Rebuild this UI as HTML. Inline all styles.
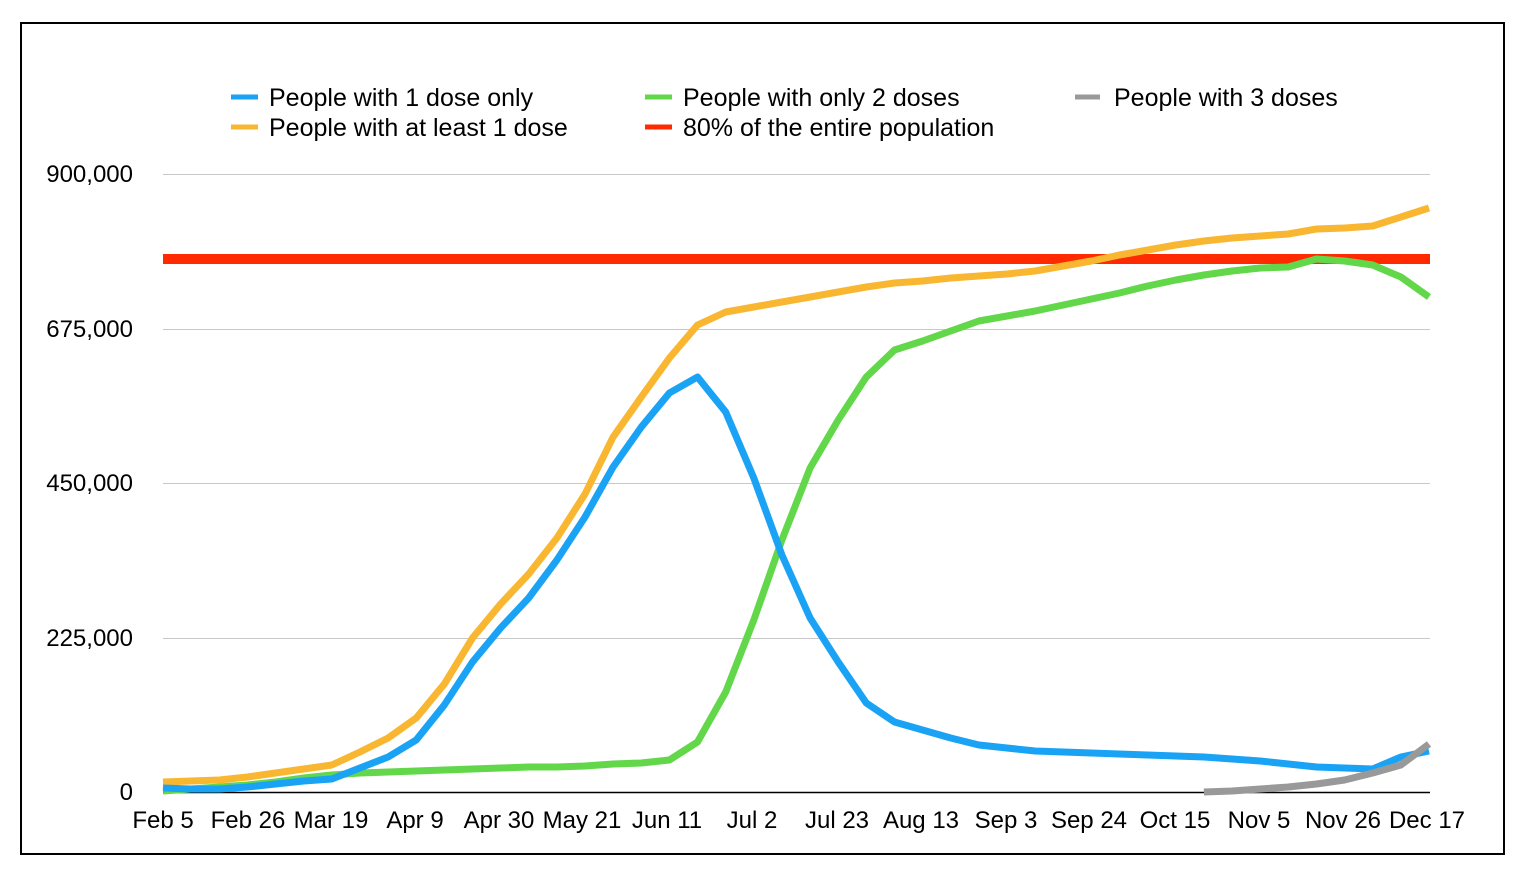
<!DOCTYPE html>
<html><head><style>body{margin:0;background:#fff}svg{display:block}text{font-family:"Liberation Sans",Arial,sans-serif;font-size:24px;fill:#000}.lg{font-size:25px}</style></head><body>
<svg width="1518" height="872" xmlns="http://www.w3.org/2000/svg">
<rect x="21" y="23" width="1483" height="831" fill="#fff" stroke="#000" stroke-width="2"/>
<g stroke="#c8c8c8" stroke-width="1">
<line x1="163" x2="1430" y1="174.5" y2="174.5"/><line x1="163" x2="1430" y1="329.5" y2="329.5"/><line x1="163" x2="1430" y1="483.5" y2="483.5"/><line x1="163" x2="1430" y1="638.5" y2="638.5"/></g>
<line x1="163" x2="1430" y1="792.5" y2="792.5" stroke="#000" stroke-width="1.5"/>
<g text-anchor="end"><text x="133" y="182">900,000</text><text x="133" y="337">675,000</text><text x="133" y="491">450,000</text><text x="133" y="646">225,000</text><text x="133" y="800">0</text></g>
<g text-anchor="middle"><text x="163" y="828">Feb 5</text><text x="248" y="828">Feb 26</text><text x="331" y="828">Mar 19</text><text x="415" y="828">Apr 9</text><text x="499" y="828">Apr 30</text><text x="582" y="828">May 21</text><text x="667" y="828">Jun 11</text><text x="752" y="828">Jul 2</text><text x="837" y="828">Jul 23</text><text x="921" y="828">Aug 13</text><text x="1006" y="828">Sep 3</text><text x="1089" y="828">Sep 24</text><text x="1175" y="828">Oct 15</text><text x="1259" y="828">Nov 5</text><text x="1343" y="828">Nov 26</text><text x="1427" y="828">Dec 17</text></g>
<line x1="163" x2="1430" y1="259" y2="259" stroke="#ff2a00" stroke-width="10"/>
<g fill="none" stroke-width="7" stroke-linejoin="round" id="s"></g>
<g stroke-width="5"><line x1="231" x2="258" y1="97" y2="97" stroke="#1aa3f5"/><line x1="231" x2="258" y1="127" y2="127" stroke="#f9b731"/><line x1="645" x2="672" y1="97" y2="97" stroke="#62d74a"/><line x1="645" x2="672" y1="127" y2="127" stroke="#ff2a00"/><line x1="1075" x2="1100" y1="97" y2="97" stroke="#999"/></g>
<text class="lg" x="269" y="106">People with 1 dose only</text><text class="lg" x="269" y="136">People with at least 1 dose</text><text class="lg" x="683" y="106">People with only 2 doses</text><text class="lg" x="683" y="136">80% of the entire population</text><text class="lg" x="1114" y="106">People with 3 doses</text>
</svg>
<script>
var S=[["#62d74a",[791,789,787,785,782,778,775,773,772,771,770,769,768,767,767,766,764,763,760,742,692,620,540,468,420,377,350,341,331,321,316,311,305,299,293,286,280,275,271,268,267,259,261,265,277,297],0],
["#f9b731",[782,781,780,777,773,769,765,752,738,718,684,638,604,574,538,494,437,397,358,325,312,307,302,297,292,287,283,281,278,276,274,271,266,261,255,250,245,241,238,236,234,229,228,226,217,208],0],
["#1aa3f5",[788,789,789,787,784,781,779,768,757,740,705,662,628,598,560,517,467,427,393,377,412,478,555,618,662,703,722,730,738,745,748,751,752,753,754,755,756,757,759,761,764,767,768,769,757,751],0],
["#999",[792,791,789,787,784,780,773,765,744],37]];
var g=document.getElementById('s'),ns="http://www.w3.org/2000/svg";
S.forEach(function(s){var p=document.createElementNS(ns,'polyline');
var pts=s[1].map(function(y,i){return (163+(1429-163)/45*(i+s[2])).toFixed(1)+','+y});
p.setAttribute('points',pts.join(' '));p.setAttribute('stroke',s[0]);g.appendChild(p);});
</script>
</body></html>
